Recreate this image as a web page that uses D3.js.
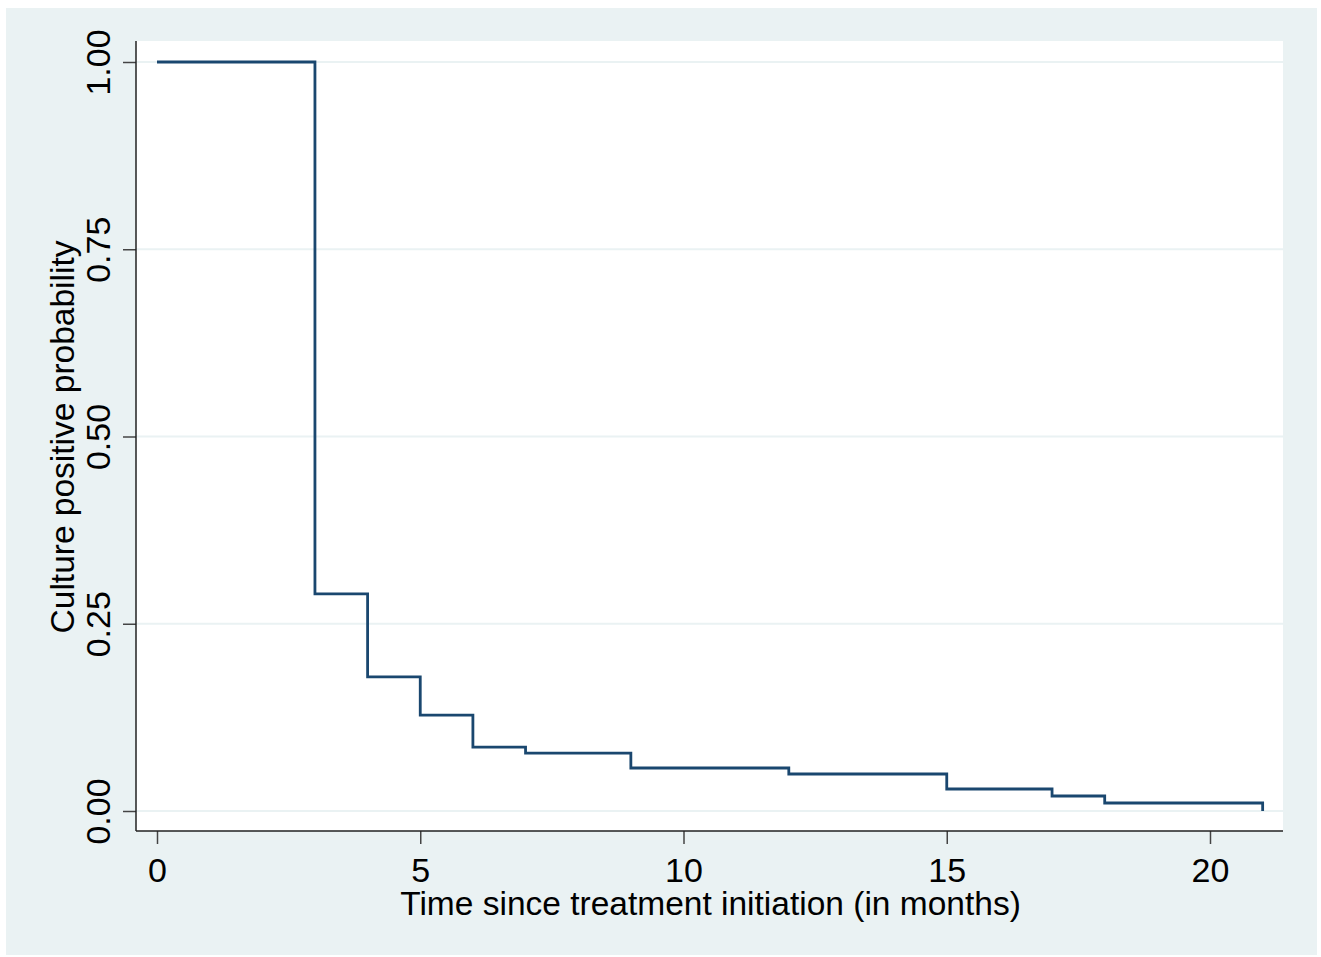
<!DOCTYPE html>
<html>
<head>
<meta charset="utf-8">
<script src="https://cdn.jsdelivr.net/npm/d3@7"></script>
<style>
  body { margin: 0; background: #fff; }
  svg text { font-family: "Liberation Sans", Arial, sans-serif; fill: #000; }
</style>
</head>
<body>
<div id="chart"></div>
<script>
// Kaplan-Meier style step data
const months = [0, 3, 4, 5, 6, 7, 9, 12, 15, 17, 18, 21];
const probability = [1.0, 0.29, 0.179, 0.128, 0.0854, 0.0774, 0.0574, 0.0494, 0.0294, 0.020, 0.0107, 0];
const xTicks = [0, 5, 10, 15, 20];
const yTicks = [0, 0.25, 0.5, 0.75, 1];
const xTitle = "Time since treatment initiation (in months)";
const yTitle = "Culture positive probability";

const W = 1321, H = 957;
const plot = { left: 136, right: 1283, top: 41, bottom: 831 };

const svg = d3.select("#chart").append("svg")
    .attr("width", W)
    .attr("height", H);

// outer background
svg.append("rect")
    .attr("x", 6).attr("y", 8)
    .attr("width", 1311).attr("height", 947)
    .attr("fill", "#eaf2f3");

// plot region
svg.append("rect")
    .attr("x", plot.left).attr("y", plot.top)
    .attr("width", plot.right - plot.left).attr("height", plot.bottom - plot.top)
    .attr("fill", "#ffffff");

const x = d3.scaleLinear().domain([0, 20]).range([157, 1210]);
const y = d3.scaleLinear().domain([0, 1]).range([811, 62]);

// gridlines
svg.append("g")
    .selectAll("line")
    .data(yTicks)
    .enter()
    .append("line")
        .attr("x1", plot.left)
        .attr("x2", plot.right)
        .attr("y1", d => y(d))
        .attr("y2", d => y(d))
        .attr("stroke", "#eaf2f3")
        .attr("stroke-width", 2);

// Y axis
const yAxis = svg.append("g")
    .attr("transform", `translate(${plot.left},0)`)
    .call(d3.axisLeft(y).tickValues(yTicks).tickFormat(d3.format(".2f")).tickSize(13).tickPadding(0));
yAxis.select(".domain").remove();
yAxis.selectAll(".tick line").attr("stroke", "#444").attr("stroke-width", 1.5);
yAxis.selectAll(".tick text")
    .attr("x", null).attr("dy", null)
    .attr("transform", "translate(-26,0) rotate(-90)")
    .attr("text-anchor", "middle")
    .style("font-size", "34px");

// X axis
const xAxis = svg.append("g")
    .attr("transform", `translate(0,${plot.bottom})`)
    .call(d3.axisBottom(x).tickValues(xTicks).tickFormat(d3.format("d")).tickSize(13).tickPadding(0));
xAxis.select(".domain").remove();
xAxis.selectAll(".tick line").attr("stroke", "#444").attr("stroke-width", 1.5);
xAxis.selectAll(".tick text")
    .attr("y", 51).attr("dy", null)
    .style("font-size", "34px");

// axis lines
svg.append("line")
    .attr("x1", plot.left).attr("x2", plot.left)
    .attr("y1", plot.top).attr("y2", plot.bottom)
    .attr("stroke", "#222").attr("stroke-width", 1.5);
svg.append("line")
    .attr("x1", plot.left).attr("x2", plot.right)
    .attr("y1", plot.bottom).attr("y2", plot.bottom)
    .attr("stroke", "#222").attr("stroke-width", 1.5);

// step line
const line = d3.line()
    .x((d, i) => x(months[i]))
    .y(d => y(d))
    .curve(d3.curveStepAfter);

svg.append("path")
    .datum(probability)
    .attr("fill", "none")
    .attr("stroke", "#1a476f")
    .attr("stroke-width", 2.8)
    .attr("d", line);

// titles
svg.append("text")
    .attr("x", (plot.left + plot.right) / 2 + 1)
    .attr("y", 915)
    .attr("text-anchor", "middle")
    .style("font-size", "33.5px")
    .text(xTitle);

svg.append("text")
    .attr("transform", `translate(74,${(plot.top + plot.bottom) / 2 + 1}) rotate(-90)`)
    .attr("text-anchor", "middle")
    .style("font-size", "33.5px")
    .text(yTitle);
</script>
</body>
</html>
